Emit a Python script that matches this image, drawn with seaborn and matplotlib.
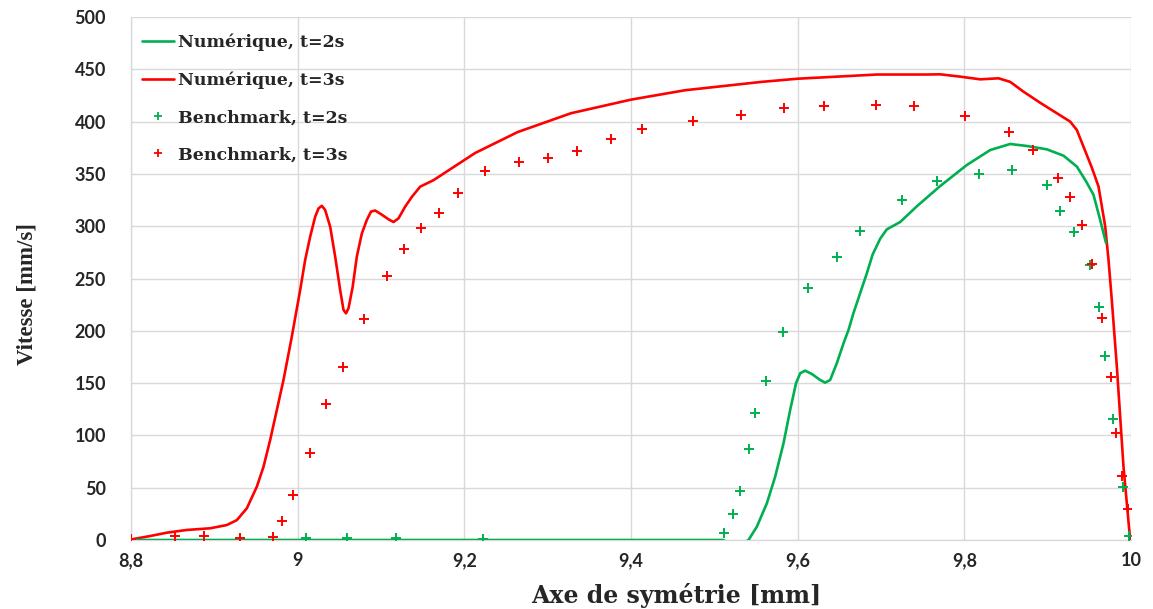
import numpy as np
import pandas as pd
import matplotlib
matplotlib.use("Agg")
import matplotlib.pyplot as plt
import seaborn as sns
from matplotlib.lines import Line2D
from matplotlib.ticker import FuncFormatter

# ---- data ----
num2_x = [8.80, 9.00, 9.20, 9.40, 9.510, 9.528, 9.541, 9.551, 9.563, 9.573, 9.583, 9.591,
          9.598, 9.603, 9.609, 9.617, 9.627, 9.633, 9.639, 9.647, 9.655, 9.661, 9.667, 9.683,
          9.690, 9.699, 9.707, 9.723, 9.743, 9.771, 9.803, 9.831, 9.855, 9.875, 9.899, 9.919,
          9.935, 9.946, 9.955, 9.963, 9.970]
num2_y = [0, 0, 0, 0, 0, -6, 0, 12.7, 35, 60.5, 92.4, 124.3, 149.8, 159.4, 161.9, 158.7, 153,
          150.4, 153, 169, 188, 200.8, 217, 255, 273, 288, 297, 304, 319, 338.4, 358.5, 372.8,
          378.6, 376.7, 373.5, 367.4, 357, 343, 330, 306, 284]

num3_x = [8.800, 8.823, 8.843, 8.867, 8.895, 8.915, 8.927, 8.939, 8.951, 8.959, 8.967, 8.975,
          8.983, 8.993, 9.003, 9.009, 9.015, 9.021, 9.025, 9.029, 9.033, 9.039, 9.045, 9.051,
          9.055, 9.058, 9.061, 9.066, 9.071, 9.077, 9.083, 9.088, 9.093, 9.101, 9.109, 9.115,
          9.121, 9.129, 9.137, 9.147, 9.163, 9.213, 9.264, 9.328, 9.400, 9.465, 9.557, 9.600,
          9.695, 9.754, 9.771, 9.795, 9.819, 9.841, 9.855, 9.871, 9.891, 9.911, 9.927, 9.935,
          9.943, 9.953, 9.961, 9.969, 9.973, 9.977, 9.983, 9.991, 9.999]
num3_y = [0.5, 3.8, 7, 9.6, 11.2, 14.3, 19, 30.3, 51, 70, 95.6, 124.3, 153, 194.5, 239, 267.7,
          290, 309, 317, 319.5, 315.5, 299.5, 271, 239, 220, 216.7, 221.5, 242, 271, 293, 306,
          314, 315, 311, 306.6, 304, 307.5, 318.7, 328, 337.8, 344, 370, 390, 408, 421, 430, 438,
          441, 445, 445, 445.2, 443, 440.4, 441.4, 438, 428.6, 418, 408, 400, 392, 376, 356, 338,
          300, 268, 229, 166, 70, 0]

bench2_x = [9.010, 9.059, 9.118, 9.222, 9.512, 9.522, 9.531, 9.541, 9.549, 9.562, 9.582, 9.612,
            9.647, 9.675, 9.725, 9.767, 9.817, 9.857, 9.899, 9.915, 9.932, 9.951, 9.961, 9.969,
            9.978, 9.990, 9.998]
bench2_y = [2, 2, 2, 0.5, 7, 25, 47, 87, 121, 152, 198.5, 241, 271, 295.5, 325, 343, 350, 353.5,
            339, 315, 294, 263, 223, 176, 116, 51, 4]

bench3_x = [8.800, 8.853, 8.888, 8.931, 8.970, 8.981, 8.994, 9.015, 9.034, 9.055, 9.080, 9.107,
            9.128, 9.148, 9.169, 9.192, 9.225, 9.266, 9.300, 9.335, 9.376, 9.413, 9.474, 9.532,
            9.584, 9.631, 9.694, 9.739, 9.801, 9.854, 9.883, 9.913, 9.927, 9.941, 9.953, 9.965,
            9.976, 9.982, 9.989, 9.996]
bench3_y = [1, 4, 4, 2, 3, 18, 43, 83, 130, 165, 211, 252, 278, 298, 313, 332, 352.5, 361, 365,
            371.5, 383, 392.5, 401, 406.5, 413, 415, 416, 415, 405, 390, 373, 346, 328, 301, 264,
            212, 155.5, 102, 61.5, 30]

labels = ["Numérique, t=2s", "Numérique, t=3s", "Benchmark, t=2s", "Benchmark, t=3s"]
x_ticks = [8.8, 9.0, 9.2, 9.4, 9.6, 9.8, 10.0]
y_ticks = [0, 50, 100, 150, 200, 250, 300, 350, 400, 450, 500]

GREEN = "#00B050"
RED = "#FF0000"

sns.set_theme(style="white")
plt.rcParams['font.family'] = ['Lato', 'DejaVu Sans']

fig = plt.figure(figsize=(11.53, 6.09), dpi=100)
ax = fig.add_axes([131/1153, 69/609, 1000/1153, 523/609])

d2 = pd.DataFrame({"x": num2_x, "y": num2_y})
d3 = pd.DataFrame({"x": num3_x, "y": num3_y})
b2 = pd.DataFrame({"x": bench2_x, "y": bench2_y})
b3 = pd.DataFrame({"x": bench3_x, "y": bench3_y})

sns.lineplot(data=d3, x="x", y="y", sort=False, estimator=None, color=RED, lw=1.9, ax=ax, zorder=3)
sns.lineplot(data=d2, x="x", y="y", sort=False, estimator=None, color=GREEN, lw=1.9, ax=ax, zorder=3)
sns.scatterplot(data=b2, x="x", y="y", marker="+", color=GREEN, s=45, linewidth=1.4, ax=ax, zorder=4)
sns.scatterplot(data=b3, x="x", y="y", marker="+", color=RED, s=45, linewidth=1.4, ax=ax, zorder=4)

ax.set_xlim(8.8, 10.0)
ax.set_ylim(0, 500)
ax.set_xticks(x_ticks)
ax.set_yticks(y_ticks)
ax.xaxis.set_major_formatter(FuncFormatter(lambda v, p: (f"{v:.1f}".rstrip("0").rstrip(".")).replace(".", ",")))
ax.grid(True, color="#d9d9d9", lw=1.0)
ax.set_axisbelow(True)
for s in ["top", "right"]:
    ax.spines[s].set_visible(False)
for s in ["left", "bottom"]:
    ax.spines[s].set_color("#d9d9d9")
    ax.spines[s].set_linewidth(1.0)
ax.tick_params(axis="both", length=0, labelsize=13)
ax.tick_params(axis="x", pad=9)
ax.tick_params(axis="y", pad=18)
for t in ax.get_xticklabels() + ax.get_yticklabels():
    t.set_fontweight("bold")

ax.set_xlabel("Axe de symétrie [mm]", family="DejaVu Serif", fontweight="bold", fontsize=17)
ax.xaxis.set_label_coords(0.545, -0.083)
ax.set_ylabel("Vitesse [mm/s]", family="Liberation Serif", fontweight="bold", fontsize=16.5)
ax.yaxis.set_label_coords(-0.094, 0.47)

handles = [
    Line2D([], [], color=GREEN, lw=1.9),
    Line2D([], [], color=RED, lw=1.9),
    Line2D([], [], color=GREEN, marker="+", ls="none", ms=6, mew=1.3),
    Line2D([], [], color=RED, marker="+", ls="none", ms=6, mew=1.3),
]
leg = ax.legend(handles, labels, loc="upper left", bbox_to_anchor=(0.0, 0.99), frameon=False,
                prop={"family": "DejaVu Serif", "weight": "bold", "size": 12.5},
                handlelength=1.8, handletextpad=0.25, labelspacing=1.17, borderaxespad=0.25)

fig.savefig("out.png", dpi=100)
